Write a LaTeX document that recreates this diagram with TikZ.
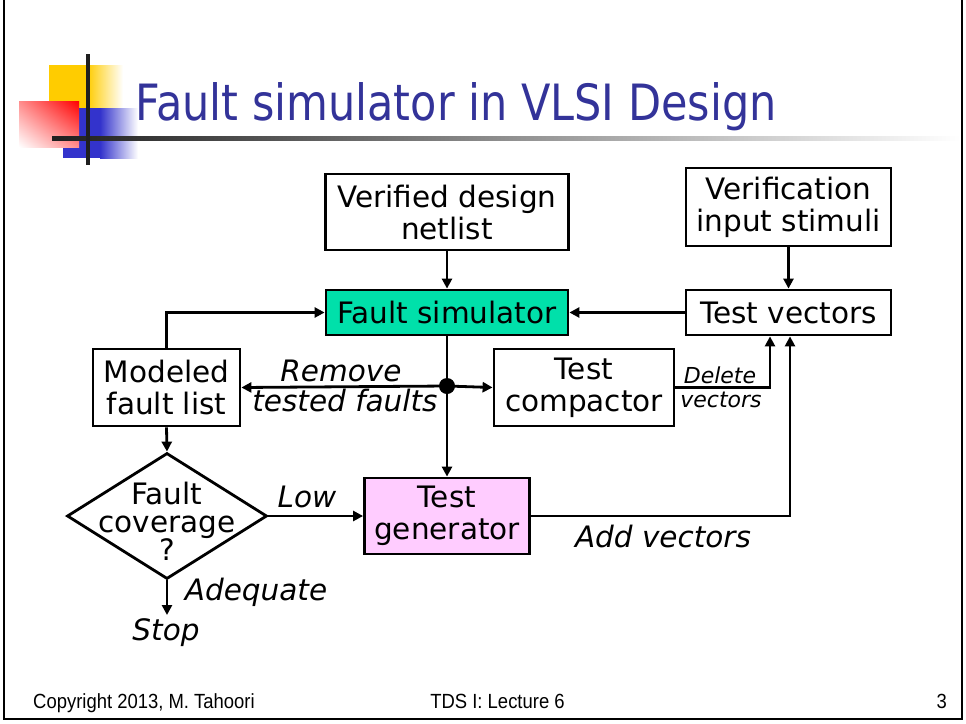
\documentclass[tikz,border=0pt]{standalone}
\usepackage{fontspec}
\setmainfont{DejaVu Sans}
\newfontfamily\titlefont[FakeStretch=0.86]{DejaVu Sans}
\newfontfamily\footfont[FakeStretch=0.9]{Liberation Sans}
\usetikzlibrary{arrows.meta,shapes.geometric,shadings}
\definecolor{titleblue}{RGB}{51,51,153}
\definecolor{logoyellow}{RGB}{255,204,0}
\definecolor{logoblue}{RGB}{51,51,204}
\definecolor{simgreen}{RGB}{0,224,170}
\definecolor{genpink}{RGB}{255,204,255}
\newcommand\boxfnt{\fontsize{29.5}{32}\selectfont}
\begin{document}
\begin{tikzpicture}[x=1pt,y=-1pt,
  box/.style={draw, line width=2.8pt, inner sep=0pt, align=center, font=\boxfnt},
  arr/.style={line width=2.8pt, -{Triangle[length=10pt,width=10pt]}},
  conn/.style={line width=2.8pt},
  lbl/.style={font=\itshape\boxfnt, anchor=base, inner sep=0pt},
  smalllbl/.style={font=\itshape\fontsize{22}{24}\selectfont, anchor=base, inner sep=0pt},
  foot/.style={font=\footfont\fontsize{20.5}{24}\selectfont, inner sep=0pt}]
\useasboundingbox (0,0) rectangle (966,723);
% frame
\draw[line width=2pt] (4,-5) -- (4,719) -- (962,719) -- (962,-5);
% logo
\fill[logoyellow] (49,65) rectangle (87,108);
\shade[left color=logoyellow, right color=white] (87,65) rectangle (123,108);
\fill[logoblue] (63,108) rectangle (100,158);
\shade[left color=logoblue, right color=white] (100,108) rectangle (138,158);
\shade[upper right=red, lower left=white, upper left=red!45!white, lower right=red!45!white] (19,101) rectangle (79,147);
\shade[left color=black!88, right color=white] (52,136.5) rectangle (960,140.5);
\fill[black!88] (86,54) rectangle (90,165);
% title
\node[anchor=base west, text=titleblue, font=\titlefont\fontsize{50}{60}\selectfont, inner sep=0pt] (title) at (135,120) {Fault simulator in VLSI Design};
% boxes
\node[box, minimum width=243pt, minimum height=76pt] (vdn) at (447,212) {Verified design\\netlist};
\node[box, minimum width=205pt, minimum height=78pt] (vis) at (788.5,207) {Verification\\input stimuli};
\node[box, fill=simgreen, minimum width=242pt, minimum height=45pt] (fs) at (447,312.5) {Fault simulator};
\node[box, minimum width=205pt, minimum height=45pt] (tv) at (788.5,312.5) {Test vectors};
\node[box, minimum width=147pt, minimum height=77pt] (mfl) at (166.5,387.5) {Modeled\\fault list};
\node[box, minimum width=180pt, minimum height=77pt] (tc) at (584,387.5) {Test\\compactor};
\node[draw, diamond, line width=2.8pt, inner sep=0pt, minimum width=200pt, minimum height=126pt] (fc) at (167,516) {};
\node[font=\boxfnt, align=center, inner sep=0pt] (fct) at ([yshift=-5pt]fc.center) {Fault\\[-4pt]coverage\\[-4pt]?};
\node[box, fill=genpink, minimum width=165pt, minimum height=76pt] (tg) at (447,516) {Test\\generator};
\node[circle, fill=black, inner sep=0pt, minimum size=16pt] (j) at (447,386) {};
\coordinate (stop) at (167,615);
% connectors
\draw[arr] (vdn.south) -- (fs.north);
\draw[arr] (vis.south) -- (tv.north);
\draw[arr] (tv.west) -- (fs.east);
\draw[conn] (fs.south) -- (j.center);
\draw[arr] (j.center) -- (tg.north);
\draw[arr] (j.center) -- (tc.west);
\draw[arr] (j.center) -- (mfl.east);
\draw[arr] (mfl.north) |- (fs.west);
\draw[arr] (mfl.south) -- (fc.north);
\draw[arr] (fc.east) -- (tg.west);
\draw[arr] (fc.south) -- (stop);
\draw[arr] (tc.east) -| ([xshift=-18.5pt]tv.south);
\draw[arr] (tg.east) -| ([xshift=1.5pt]tv.south);
% labels
\node[lbl] (l1) at (341,381) {Remove};
\node[lbl] (l2) at (345,411) {tested faults};
\node[lbl] (l3) at (307,507) {Low};
\node[lbl] (l4) at (256,600) {Adequate};
\node[lbl] (l5) at (166,640) {Stop};
\node[lbl] (l6) at (663,547) {Add vectors};
\node[smalllbl] (l7) at (720,383) {Delete};
\node[smalllbl] (l8) at (721,407) {vectors};
% footer
\node[foot, anchor=base west] (f1) at (33,708) {Copyright 2013, M. Tahoori};
\node[foot, anchor=base] (f2) at (497.5,708) {TDS I: Lecture 6};
\node[foot, anchor=base east] (f3) at (947,708) {3};
\end{tikzpicture}
\end{document}
